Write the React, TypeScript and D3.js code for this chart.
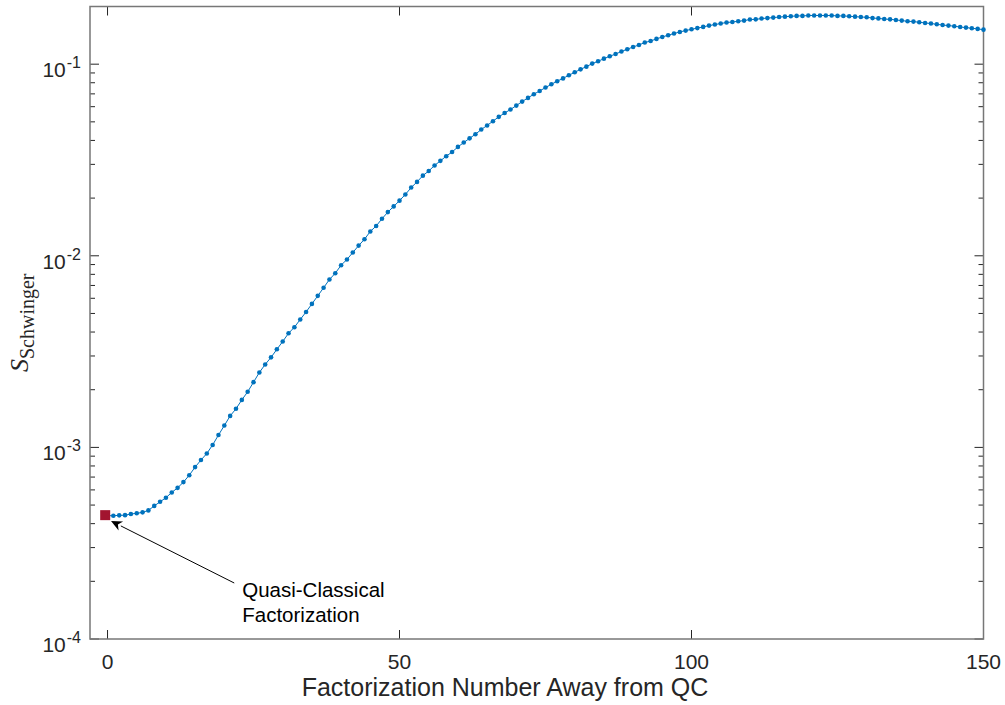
import React from 'react';
import * as d3 from 'd3';

// S_Schwinger for factorizations 0..150 away from the quasi-classical one
const sSchwinger = [
  4.40e-4, 4.40e-4, 4.42e-4, 4.43e-4, 4.49e-4, 4.53e-4, 4.58e-4, 4.69e-4, 4.95e-4, 5.20e-4,
  5.46e-4, 5.82e-4, 6.15e-4, 6.59e-4, 7.16e-4, 7.89e-4, 8.59e-4, 9.29e-4, 1.03e-3, 1.16e-3,
  1.30e-3, 1.46e-3, 1.59e-3, 1.77e-3, 1.95e-3, 2.19e-3, 2.46e-3, 2.71e-3, 2.95e-3, 3.25e-3,
  3.57e-3, 3.94e-3, 4.24e-3, 4.65e-3, 5.09e-3, 5.61e-3, 6.18e-3, 6.81e-3, 7.52e-3, 8.11e-3,
  8.93e-3, 9.57e-3, 1.04e-2, 1.13e-2, 1.22e-2, 1.34e-2, 1.43e-2, 1.56e-2, 1.69e-2, 1.81e-2,
  1.94e-2, 2.09e-2, 2.27e-2, 2.43e-2, 2.62e-2, 2.77e-2, 2.96e-2, 3.13e-2, 3.31e-2, 3.48e-2,
  3.70e-2, 3.90e-2, 4.10e-2, 4.31e-2, 4.56e-2, 4.79e-2, 5.04e-2, 5.31e-2, 5.56e-2, 5.80e-2,
  6.08e-2, 6.38e-2, 6.67e-2, 6.97e-2, 7.25e-2, 7.55e-2, 7.85e-2, 8.15e-2, 8.43e-2, 8.75e-2,
  9.07e-2, 9.40e-2, 9.71e-2, 0.1007, 0.1035, 0.1069, 0.1099, 0.1130, 0.1164, 0.1197,
  0.1230, 0.1259, 0.1297, 0.1321, 0.1355, 0.1387, 0.1416, 0.1445, 0.1473, 0.1497,
  0.1521, 0.1543, 0.1565, 0.1590, 0.1610, 0.1630, 0.1650, 0.1660, 0.1675, 0.1688,
  0.1710, 0.1714, 0.1730, 0.1740, 0.1750, 0.1762, 0.1770, 0.1778, 0.1786, 0.1786,
  0.1795, 0.1795, 0.1795, 0.1795, 0.1795, 0.1786, 0.1786, 0.1778, 0.1770, 0.1762,
  0.1758, 0.1740, 0.1734, 0.1720, 0.1714, 0.1702, 0.1688, 0.1675, 0.1668, 0.1656,
  0.1641, 0.1630, 0.1615, 0.1600, 0.1590, 0.1578, 0.1563, 0.1552, 0.1540, 0.1528,
  0.1514,
];
const factorizationNumber = sSchwinger.map((_, i) => i);

// quasi-classical factorization marker
const qcPos = -0.4;
const qcValue = 4.43e-4;

const xTicks = [0, 50, 100, 150];
const yExponents = [-4, -3, -2, -1];
const noteLines = ['Quasi-Classical', 'Factorization'];
// arrow ends in data units [factorization number, S]
const arrowFrom: [number, number] = [21.7, 1.96e-4];
const arrowTo: [number, number] = [0.6, 4.13e-4];

const W = 1005;
const H = 705;
const left = 90, right = 983.5, top = 6.5, bottom = 639;
const font = '"Liberation Sans", Arial, Helvetica, sans-serif';
const blue = '#0072BD';

export default function App() {
  const x = d3.scaleLinear().domain([-3, 150]).range([left, right]);
  const y = d3.scaleLog().domain([1e-4, 0.2]).range([bottom, top]);

  const line = d3.line<number>()
    .x((_, i) => x(factorizationNumber[i]))
    .y((d) => y(d));

  const minor: number[] = [];
  yExponents.forEach((e) => {
    for (let m = 2; m <= 9; m++) {
      const v = m * Math.pow(10, e);
      if (v < 0.2) minor.push(v);
    }
  });

  // arrow geometry
  const ax0 = x(arrowFrom[0]), ay0 = y(arrowFrom[1]);
  const ax1 = x(arrowTo[0]), ay1 = y(arrowTo[1]);
  const ang = Math.atan2(ay1 - ay0, ax1 - ax0);
  const hl = 11, hw = 5;
  const bx = ax1 - hl * Math.cos(ang), by = ay1 - hl * Math.sin(ang);
  const head = [
    [ax1, ay1],
    [bx + hw * Math.sin(ang), by - hw * Math.cos(ang)],
    [ax1 - hl * 0.7 * Math.cos(ang), ay1 - hl * 0.7 * Math.sin(ang)],
    [bx - hw * Math.sin(ang), by + hw * Math.cos(ang)],
  ].map((p) => p.join(',')).join(' ');

  return (
    <div style={{ position: 'absolute', left: 0, top: 0 }}>
      <svg width={W} height={H} style={{ display: 'block', background: '#fff' }}>
        <rect x={0} y={0} width={W} height={H} fill="#fff" />

        {/* major/minor y ticks, both sides */}
        {yExponents.map((e) => {
          const yy = y(Math.pow(10, e));
          return (
            <g key={'yt' + e} stroke="#262626" strokeWidth={1}>
              <line x1={left} x2={left + 9} y1={yy} y2={yy} />
              <line x1={right} x2={right - 9} y1={yy} y2={yy} />
            </g>
          );
        })}
        {minor.map((v, i) => (
          <g key={'ym' + i} stroke="#262626" strokeWidth={1}>
            <line x1={left} x2={left + 5} y1={y(v)} y2={y(v)} />
            <line x1={right} x2={right - 5} y1={y(v)} y2={y(v)} />
          </g>
        ))}
        {xTicks.map((t) => (
          <g key={'xt' + t} stroke="#262626" strokeWidth={1}>
            <line x1={x(t)} x2={x(t)} y1={bottom} y2={bottom - 9} />
            <line x1={x(t)} x2={x(t)} y1={top} y2={top + 9} />
          </g>
        ))}

        <rect x={left} y={top} width={right - left} height={bottom - top}
          fill="none" stroke="#777" strokeWidth={1.5} />

        {/* tick labels */}
        {yExponents.map((e) => (
          <text key={'yl' + e} x={81} y={y(Math.pow(10, e)) + 13} textAnchor="end"
            fontFamily={font} fontSize={21} fill="#262626">
            <tspan>10</tspan>
            <tspan dx={1} dy={-9} fontSize={16}>{String(e)}</tspan>
          </text>
        ))}
        {xTicks.map((t) => (
          <text key={'xl' + t} x={x(t)} y={669} textAnchor="middle"
            fontFamily={font} fontSize={21} fill="#262626">{t}</text>
        ))}

        <text x={505} y={696} textAnchor="middle" fontFamily={font}
          fontSize={25} fill="#262626">Factorization Number Away from QC</text>

        <text transform={`translate(28,${(top + bottom) / 2}) rotate(-90)`} textAnchor="middle"
          fontFamily='"Liberation Serif", "Times New Roman", serif' fill="#262626">
          <tspan fontSize={26} fontStyle="italic">S</tspan>
          <tspan fontSize={20} dy={6}>Schwinger</tspan>
        </text>

        {/* series */}
        <path d={line(sSchwinger) || ''} fill="none" stroke={blue} strokeWidth={1} />
        {sSchwinger.map((v, i) => (
          <circle key={i} cx={x(factorizationNumber[i])} cy={y(v)} r={2.3} fill={blue} />
        ))}
        <rect x={x(qcPos) - 5} y={y(qcValue) - 5} width={10} height={10} fill="#A2142F" />

        {/* annotation */}
        <line x1={ax0} y1={ay0} x2={bx} y2={by} stroke="#000" strokeWidth={1} />
        <polygon points={head} fill="#000" />
        {noteLines.map((s, i) => (
          <text key={s} x={ax0 + 8} y={ay0 + 14 + i * 25} fontFamily={font} fontSize={20.5} fill="#000">{s}</text>
        ))}
      </svg>
    </div>
  );
}
